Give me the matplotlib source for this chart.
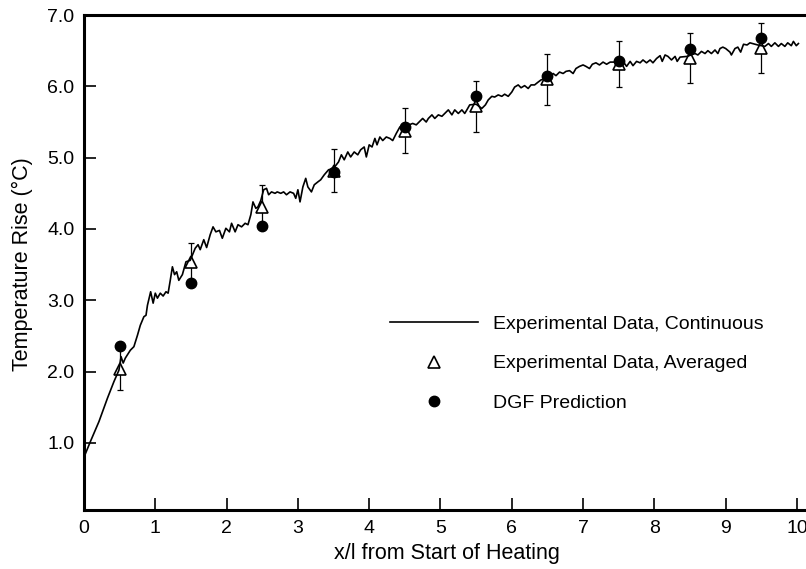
"""
Temperature rise vs. x/l from start of heating.

Continuous experimental trace, averaged experimental points with error
bars, and the DGF prediction. Saved to out.png.
"""

import matplotlib
matplotlib.use("Agg")   # headless backend
import matplotlib.pyplot as plt

plt.rcParams["font.family"] = ["Liberation Sans", "DejaVu Sans"]

# ---------------------------------------------------------------------------
# Data
# ---------------------------------------------------------------------------

# continuous experimental trace
cont_x = [
    0.00, 0.09, 0.21, 0.33, 0.42, 0.49, 0.52, 0.55, 0.58, 0.65, 0.70, 0.75,
    0.79, 0.84, 0.87, 0.89, 0.935, 0.97, 1.00, 1.03, 1.07, 1.11, 1.15, 1.18,
    1.21, 1.24, 1.27, 1.30, 1.33, 1.38, 1.43, 1.49, 1.56, 1.60, 1.63, 1.68,
    1.72, 1.77, 1.81, 1.85, 1.90, 1.94, 1.99, 2.04, 2.07, 2.12, 2.16, 2.21,
    2.26, 2.30, 2.34, 2.37, 2.41, 2.44, 2.48, 2.52, 2.56, 2.59, 2.63, 2.68,
    2.71, 2.76, 2.80, 2.84, 2.89, 2.94, 2.97, 3.00, 3.03, 3.07, 3.11, 3.14,
    3.19, 3.23, 3.28, 3.32, 3.37, 3.43, 3.50, 3.57, 3.61, 3.65, 3.70, 3.74,
    3.79, 3.84, 3.88, 3.93, 3.96, 4.00, 4.04, 4.08, 4.11, 4.15, 4.19, 4.24,
    4.29, 4.33, 4.38, 4.43, 4.50, 4.56, 4.61, 4.66, 4.70, 4.75, 4.80, 4.83,
    4.88, 4.92, 4.97, 5.02, 5.06, 5.11, 5.16, 5.20, 5.25, 5.30, 5.34, 5.37,
    5.41, 5.50, 5.58, 5.63, 5.67, 5.72, 5.76, 5.81, 5.86, 5.90, 5.95, 6.00,
    6.04, 6.09, 6.13, 6.18, 6.23, 6.27, 6.32, 6.37, 6.41, 6.47, 6.53, 6.58,
    6.62, 6.67, 6.72, 6.76, 6.81, 6.86, 6.90, 6.95, 7.00, 7.04, 7.09, 7.13,
    7.18, 7.23, 7.28, 7.33, 7.38, 7.47, 7.56, 7.61, 7.66, 7.70, 7.75, 7.80,
    7.84, 7.89, 7.94, 7.98, 8.03, 8.08, 8.11, 8.15, 8.19, 8.24, 8.29, 8.32,
    8.36, 8.46, 8.57, 8.61, 8.66, 8.71, 8.75, 8.80, 8.85, 8.89, 8.92, 8.96,
    9.00, 9.06, 9.08, 9.13, 9.17, 9.21, 9.25, 9.30, 9.34, 9.45, 9.55, 9.60,
    9.64, 9.69, 9.74, 9.78, 9.83, 9.87, 9.92, 9.95, 9.99, 10.02,
]
cont_y = [
    0.80, 1.02, 1.30, 1.63, 1.86, 2.02, 2.21, 2.12, 2.19, 2.30, 2.35, 2.51,
    2.65, 2.77, 2.79, 2.93, 3.12, 2.96, 3.10, 3.03, 3.10, 3.06, 3.12, 3.10,
    3.28, 3.47, 3.36, 3.40, 3.28, 3.36, 3.54, 3.56, 3.73, 3.78, 3.71, 3.85,
    3.74, 3.92, 4.03, 3.96, 3.98, 3.87, 4.01, 3.96, 4.08, 3.96, 4.06, 4.03,
    4.08, 4.06, 4.20, 4.38, 4.29, 4.31, 4.40, 4.55, 4.57, 4.48, 4.52, 4.50,
    4.52, 4.50, 4.52, 4.48, 4.52, 4.50, 4.43, 4.55, 4.38, 4.59, 4.71, 4.59,
    4.52, 4.62, 4.66, 4.69, 4.76, 4.83, 4.85, 4.94, 5.04, 4.97, 5.08, 5.01,
    5.08, 5.04, 5.11, 5.15, 5.01, 5.18, 5.15, 5.27, 5.18, 5.29, 5.24, 5.29,
    5.27, 5.24, 5.34, 5.43, 5.45, 5.46, 5.48, 5.46, 5.50, 5.55, 5.50, 5.55,
    5.60, 5.55, 5.60, 5.58, 5.62, 5.67, 5.60, 5.67, 5.62, 5.67, 5.62, 5.67,
    5.74, 5.75, 5.69, 5.74, 5.81, 5.86, 5.85, 5.88, 5.86, 5.89, 5.86, 5.92,
    5.99, 6.02, 5.98, 6.01, 5.97, 6.02, 6.02, 6.06, 6.09, 6.11, 6.13, 6.18,
    6.15, 6.20, 6.18, 6.21, 6.22, 6.18, 6.25, 6.28, 6.30, 6.28, 6.25, 6.31,
    6.33, 6.30, 6.34, 6.31, 6.34, 6.34, 6.35, 6.28, 6.35, 6.29, 6.35, 6.33,
    6.37, 6.33, 6.37, 6.33, 6.39, 6.43, 6.35, 6.44, 6.42, 6.37, 6.42, 6.35,
    6.41, 6.42, 6.46, 6.44, 6.49, 6.46, 6.50, 6.46, 6.51, 6.46, 6.53, 6.55,
    6.53, 6.48, 6.44, 6.53, 6.55, 6.48, 6.59, 6.58, 6.61, 6.58, 6.56, 6.60,
    6.56, 6.61, 6.56, 6.60, 6.56, 6.61, 6.57, 6.63, 6.57, 6.60,
]

# averaged experimental data with error bars
avg_x = [0.5, 1.5, 2.5, 3.5, 4.5, 5.5, 6.5, 7.5, 8.5, 9.5]
avg_y = [2.04, 3.54, 4.31, 4.82, 5.38, 5.72, 6.10, 6.31, 6.40, 6.54]
avg_err = [0.30, 0.27, 0.30, 0.30, 0.31, 0.36, 0.36, 0.32, 0.35, 0.35]

# DGF prediction
dgf_x = [0.5, 1.5, 2.5, 3.5, 4.5, 5.5, 6.5, 7.5, 8.5, 9.5]
dgf_y = [2.36, 3.24, 4.04, 4.80, 5.43, 5.86, 6.14, 6.35, 6.52, 6.68]

x_ticks = [0, 1, 2, 3, 4, 5, 6, 7, 8, 9, 10]
y_ticks = [1.0, 2.0, 3.0, 4.0, 5.0, 6.0, 7.0]

# ---------------------------------------------------------------------------
# Plot
# ---------------------------------------------------------------------------

fig = plt.figure(figsize=(8.06, 5.69), dpi=100)
# axes run past the right edge of the figure, as in the original scan
ax = fig.add_axes([0.1042, 0.1037, 0.92, 0.8699])

ax.errorbar(avg_x, avg_y, yerr=avg_err, fmt="none", ecolor="black",
            elinewidth=0.9, capsize=2.5, capthick=0.9, zorder=2)
ax.plot(avg_x, avg_y, "^", ms=8.5, mfc="white", mec="black", mew=1.2,
        zorder=3, label="Experimental Data, Averaged")
ax.plot(cont_x, cont_y, "-", color="black", lw=1.2, zorder=4,
        label="Experimental Data, Continuous")
ax.plot(dgf_x, dgf_y, "o", ms=7.5, color="black", zorder=5,
        label="DGF Prediction")

ax.set_xlim(0, 10.4)
ax.set_ylim(0.06, 7.0)
ax.set_xticks(x_ticks)
ax.set_yticks(y_ticks)
ax.set_xticklabels([str(v) for v in x_ticks])
ax.set_yticklabels([f"{v:.1f}" for v in y_ticks])
ax.tick_params(direction="in", length=8.5, width=1.2, labelsize=14, pad=7)

for side in ("left", "bottom", "top", "right"):
    ax.spines[side].set_linewidth(2.2)

ax.set_xlabel("x/l from Start of Heating", fontsize=15.5)
ax.set_ylabel("Temperature Rise (°C)", fontsize=15.5)
ax.xaxis.set_label_coords(0.489, -0.066)
ax.yaxis.set_label_coords(-0.069, 0.497)

handles, labels = ax.get_legend_handles_labels()
order = [1, 0, 2]
ax.legend([handles[i] for i in order], [labels[i] for i in order],
          loc="upper left", bbox_to_anchor=(0.484, 0.4464),
          bbox_transform=fig.transFigure, frameon=False, fontsize=14,
          handlelength=4.5, handletextpad=0.77, labelspacing=1.14,
          borderpad=0, borderaxespad=0)

fig.savefig("out.png", dpi=100)
plt.close(fig)
